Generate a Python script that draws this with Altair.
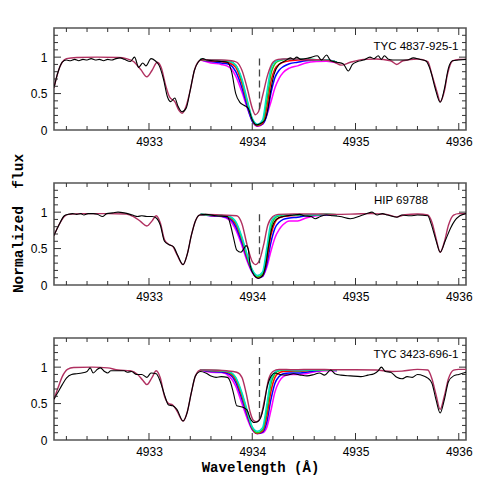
import altair as alt
import pandas as pd

X_DOMAIN = [4932.08, 4936.07]
Y_DOMAIN = [0, 1.4]
W, H = 412, 102

STARS = ["TYC 4837-925-1", "HIP 69788", "TYC 3423-696-1"]

# ---------- panel 1 : TYC 4837-925-1 ----------
P1_MOD_W = [4932.08, 4932.12, 4932.16, 4932.20, 4932.30, 4932.50, 4932.70, 4932.78, 4932.85, 4932.92,
            4932.98, 4933.03, 4933.08, 4933.12, 4933.16, 4933.20, 4933.25, 4933.29, 4933.32, 4933.36,
            4933.40, 4933.44, 4933.48, 4933.52, 4933.60, 4933.70, 4933.80, 4933.85, 4933.90, 4933.95,
            4934.00, 4934.03, 4934.06, 4934.10, 4934.15, 4934.20, 4934.25, 4934.30, 4934.40, 4934.50,
            4934.60, 4934.70, 4934.80, 4934.86, 4934.95, 4935.08, 4935.20, 4935.34, 4935.40, 4935.46,
            4935.60, 4935.70, 4935.74, 4935.79, 4935.82, 4935.86, 4935.89, 4935.94, 4936.00, 4936.07]
P1_MOD_F = [0.58, 0.80, 0.93, 0.98, 0.995, 1.0, 0.995, 0.98, 0.94, 0.83,
            0.73, 0.82, 0.93, 0.85, 0.62, 0.45, 0.39, 0.27, 0.23, 0.33,
            0.55, 0.82, 0.94, 0.97, 0.96, 0.96, 0.95, 0.93, 0.82, 0.58,
            0.30, 0.21, 0.25, 0.47, 0.76, 0.93, 0.97, 0.975, 0.975, 0.97,
            0.965, 0.96, 0.93, 0.89, 0.93, 0.97, 0.975, 0.95, 0.90, 0.95,
            0.975, 0.94, 0.76, 0.52, 0.39, 0.53, 0.76, 0.95, 0.97, 0.97]
P1_OBS_W = [4932.08, 4932.12, 4932.16, 4932.20, 4932.24, 4932.28, 4932.32, 4932.36, 4932.40, 4932.44,
            4932.48, 4932.52, 4932.56, 4932.60, 4932.64, 4932.68, 4932.72, 4932.76, 4932.82, 4932.86,
            4932.90, 4932.94, 4932.97, 4933.02, 4933.06, 4933.10, 4933.14, 4933.18, 4933.21, 4933.25,
            4933.28, 4933.32, 4933.36, 4933.40, 4933.44, 4933.48, 4933.52, 4933.56, 4933.62, 4933.70,
            4933.76, 4933.80, 4933.84, 4933.88, 4933.92, 4933.96, 4934.00, 4934.04, 4934.08, 4934.12,
            4934.15, 4934.18, 4934.21, 4934.26, 4934.32, 4934.37, 4934.40, 4934.43, 4934.47, 4934.55,
            4934.63, 4934.67, 4934.72, 4934.76, 4934.82, 4934.88, 4934.93, 4934.97, 4935.02, 4935.08,
            4935.14, 4935.18, 4935.22, 4935.25, 4935.28, 4935.32, 4935.36, 4935.42, 4935.50, 4935.56,
            4935.62, 4935.68, 4935.73, 4935.77, 4935.82, 4935.86, 4935.90, 4935.94, 4936.00, 4936.07]
P1_OBS_F = [0.58, 0.80, 0.93, 0.96, 0.95, 0.97, 0.95, 0.97, 0.96, 0.98,
            0.96, 0.97, 0.95, 0.97, 0.96, 0.98, 0.99, 0.97, 0.94, 1.00,
            0.86, 0.92, 0.88, 0.98, 0.95, 0.88, 0.70, 0.45, 0.39, 0.44,
            0.33, 0.25, 0.30, 0.55, 0.82, 0.94, 0.98, 0.96, 0.95, 0.94,
            0.93, 0.80, 0.50, 0.38, 0.34, 0.30, 0.14, 0.07, 0.09, 0.13,
            0.28, 0.55, 0.76, 0.90, 0.95, 0.99, 0.97, 1.00, 0.97, 0.99,
            1.02, 0.96, 1.03, 0.95, 0.93, 0.91, 0.81, 0.90, 0.94, 0.96,
            1.00, 0.98, 1.02, 0.97, 1.02, 0.97, 0.96, 0.96, 0.96, 0.99,
            0.97, 0.95, 0.80, 0.58, 0.38, 0.56, 0.85, 0.95, 0.96, 0.97]

# model variants around the 4934 line (common wavelength grid)
VW = [4933.50, 4933.60, 4933.70, 4933.78, 4933.84, 4933.90, 4933.95, 4934.00, 4934.05, 4934.10, 4934.14,
      4934.18, 4934.22, 4934.26, 4934.30, 4934.36, 4934.44, 4934.52, 4934.62, 4934.72, 4934.82]
P1_MAGENTA = [0.96, 0.92, 0.90, 0.86, 0.74, 0.52, 0.31, 0.13, 0.05, 0.08, 0.20, 0.38, 0.58, 0.71, 0.79, 0.85, 0.88, 0.92, 0.94, 0.945, 0.92]
P1_BLUE = [0.96, 0.94, 0.92, 0.90, 0.80, 0.58, 0.33, 0.12, 0.06, 0.08, 0.20, 0.50, 0.72, 0.82, 0.87, 0.91, 0.93, 0.95, 0.96, 0.96, 0.93]
P1_RED = [0.965, 0.95, 0.94, 0.92, 0.86, 0.64, 0.38, 0.14, 0.06, 0.09, 0.30, 0.66, 0.84, 0.90, 0.93, 0.95, 0.96, 0.965, 0.965, 0.96, 0.93]
P1_GREEN = [0.97, 0.96, 0.95, 0.94, 0.89, 0.68, 0.40, 0.15, 0.07, 0.11, 0.40, 0.76, 0.91, 0.95, 0.965, 0.97, 0.97, 0.97, 0.965, 0.96, 0.93]
P1_CYAN = [0.97, 0.96, 0.955, 0.945, 0.89, 0.70, 0.42, 0.16, 0.08, 0.14, 0.50, 0.84, 0.94, 0.96, 0.97, 0.97, 0.97, 0.97, 0.965, 0.96, 0.93]

# ---------- panel 2 : HIP 69788 ----------
P2_MOD_W = [4932.08, 4932.13, 4932.18, 4932.22, 4932.35, 4932.60, 4932.78, 4932.85, 4932.92, 4932.98,
            4933.03, 4933.07, 4933.11, 4933.15, 4933.19, 4933.23, 4933.27, 4933.33, 4933.37, 4933.41,
            4933.45, 4933.49, 4933.55, 4933.70, 4933.85, 4933.90, 4933.95, 4934.00, 4934.03, 4934.07,
            4934.11, 4934.15, 4934.20, 4934.25, 4934.40, 4934.60, 4934.80, 4935.00, 4935.15, 4935.30,
            4935.40, 4935.48, 4935.60, 4935.70, 4935.74, 4935.78, 4935.82, 4935.86, 4935.90, 4935.95,
            4936.00, 4936.07]
P2_MOD_F = [0.68, 0.83, 0.94, 0.97, 0.98, 0.98, 0.975, 0.94, 0.87, 0.81,
            0.88, 0.95, 0.85, 0.62, 0.56, 0.53, 0.42, 0.28, 0.42, 0.68,
            0.88, 0.96, 0.97, 0.96, 0.95, 0.84, 0.55, 0.32, 0.28, 0.34,
            0.55, 0.82, 0.94, 0.97, 0.975, 0.975, 0.97, 0.975, 0.98, 0.97,
            0.935, 0.965, 0.975, 0.96, 0.86, 0.64, 0.45, 0.59, 0.82, 0.96,
            0.98, 0.98]
P2_OBS_W = [4932.08, 4932.13, 4932.18, 4932.22, 4932.26, 4932.30, 4932.34, 4932.37, 4932.41, 4932.46,
            4932.50, 4932.55, 4932.59, 4932.65, 4932.70, 4932.76, 4932.84, 4932.89, 4932.93, 4932.98,
            4933.03, 4933.07, 4933.11, 4933.15, 4933.20, 4933.24, 4933.28, 4933.33, 4933.37, 4933.41,
            4933.45, 4933.49, 4933.55, 4933.65, 4933.76, 4933.79, 4933.82, 4933.85, 4933.89, 4933.92,
            4933.94, 4933.96, 4933.98, 4934.02, 4934.06, 4934.10, 4934.13, 4934.16, 4934.19, 4934.24,
            4934.30, 4934.40, 4934.46, 4934.50, 4934.57, 4934.61, 4934.66, 4934.72, 4934.78, 4934.85,
            4934.95, 4935.05, 4935.11, 4935.16, 4935.21, 4935.26, 4935.31, 4935.40, 4935.45, 4935.53,
            4935.60, 4935.70, 4935.73, 4935.78, 4935.82, 4935.87, 4935.92, 4935.96, 4936.01, 4936.07]
P2_OBS_F = [0.68, 0.83, 0.95, 0.97, 0.98, 0.97, 0.98, 0.96, 0.98, 0.98,
            0.97, 0.94, 0.98, 0.99, 1.00, 0.99, 0.96, 0.94, 0.95, 0.94,
            0.94, 0.92, 0.82, 0.60, 0.55, 0.52, 0.40, 0.28, 0.42, 0.68,
            0.88, 0.96, 0.97, 0.95, 0.94, 0.82, 0.64, 0.48, 0.45, 0.50,
            0.54, 0.50, 0.27, 0.13, 0.09, 0.13, 0.27, 0.55, 0.78, 0.91,
            0.94, 0.96, 0.97, 0.95, 0.94, 0.91, 0.94, 0.96, 0.95, 0.94,
            0.91, 0.95, 0.98, 1.00, 0.96, 0.98, 0.96, 0.93, 0.96, 0.95,
            0.96, 0.95, 0.85, 0.61, 0.45, 0.61, 0.78, 0.88, 0.95, 0.98]
P2_MAGENTA = [0.97, 0.95, 0.94, 0.89, 0.76, 0.54, 0.33, 0.17, 0.10, 0.12, 0.24, 0.46, 0.65, 0.76, 0.83, 0.88, 0.88, 0.92, 0.95, 0.96, 0.965]
P2_BLUE = [0.97, 0.95, 0.945, 0.91, 0.80, 0.58, 0.36, 0.18, 0.10, 0.12, 0.28, 0.58, 0.78, 0.86, 0.90, 0.92, 0.93, 0.95, 0.96, 0.965, 0.965]
P2_RED = [0.97, 0.955, 0.95, 0.925, 0.84, 0.62, 0.38, 0.19, 0.10, 0.13, 0.34, 0.68, 0.86, 0.92, 0.94, 0.95, 0.955, 0.96, 0.965, 0.97, 0.965]
P2_GREEN = [0.97, 0.96, 0.955, 0.935, 0.86, 0.64, 0.40, 0.20, 0.11, 0.15, 0.42, 0.78, 0.92, 0.95, 0.96, 0.96, 0.96, 0.965, 0.965, 0.97, 0.965]
P2_CYAN = [0.97, 0.96, 0.955, 0.94, 0.87, 0.66, 0.42, 0.21, 0.13, 0.18, 0.50, 0.85, 0.94, 0.96, 0.965, 0.965, 0.965, 0.965, 0.965, 0.97, 0.965]

# ---------- panel 3 : TYC 3423-696-1 ----------
P3_MOD_W = [4932.08, 4932.12, 4932.16, 4932.21, 4932.27, 4932.45, 4932.60, 4932.70, 4932.82, 4932.89,
            4932.94, 4932.98, 4933.03, 4933.07, 4933.11, 4933.15, 4933.19, 4933.23, 4933.27, 4933.33,
            4933.37, 4933.41, 4933.45, 4933.50, 4933.60, 4933.75, 4933.85, 4933.90, 4933.94, 4933.98,
            4934.01, 4934.04, 4934.08, 4934.12, 4934.16, 4934.20, 4934.26, 4934.40, 4934.60, 4934.80,
            4935.00, 4935.20, 4935.35, 4935.45, 4935.60, 4935.70, 4935.74, 4935.78, 4935.82, 4935.86,
            4935.90, 4935.95, 4936.00, 4936.07]
P3_MOD_F = [0.56, 0.72, 0.87, 0.97, 0.995, 1.0, 0.99, 0.96, 0.95, 0.90,
            0.82, 0.76, 0.86, 0.95, 0.85, 0.60, 0.50, 0.48, 0.40, 0.26,
            0.38, 0.65, 0.88, 0.96, 0.96, 0.95, 0.93, 0.86, 0.65, 0.38,
            0.27, 0.25, 0.31, 0.56, 0.84, 0.94, 0.97, 0.965, 0.97, 0.965,
            0.965, 0.96, 0.94, 0.945, 0.97, 0.96, 0.84, 0.62, 0.42, 0.60,
            0.84, 0.96, 0.97, 0.97]
P3_OBS_W = [4932.08, 4932.12, 4932.16, 4932.20, 4932.25, 4932.30, 4932.35, 4932.40, 4932.43, 4932.46,
            4932.50, 4932.53, 4932.57, 4932.60, 4932.63, 4932.70, 4932.76, 4932.79, 4932.83, 4932.88,
            4932.93, 4932.98, 4933.02, 4933.07, 4933.11, 4933.15, 4933.19, 4933.23, 4933.27, 4933.33,
            4933.37, 4933.41, 4933.45, 4933.50, 4933.55, 4933.60, 4933.65, 4933.70, 4933.76, 4933.79,
            4933.82, 4933.85, 4933.88, 4933.91, 4933.95, 4933.98, 4934.02, 4934.05, 4934.08, 4934.11,
            4934.14, 4934.18, 4934.22, 4934.27, 4934.33, 4934.40, 4934.47, 4934.53, 4934.60, 4934.65,
            4934.70, 4934.76, 4934.80, 4934.86, 4934.95, 4935.05, 4935.12, 4935.18, 4935.22, 4935.25,
            4935.29, 4935.34, 4935.40, 4935.45, 4935.50, 4935.55, 4935.60, 4935.66, 4935.70, 4935.74,
            4935.78, 4935.82, 4935.86, 4935.90, 4935.95, 4936.00, 4936.07]
P3_OBS_F = [0.56, 0.66, 0.76, 0.85, 0.90, 0.91, 0.92, 0.94, 0.99, 0.92,
            0.97, 0.99, 0.94, 0.92, 0.95, 0.95, 0.95, 0.93, 0.94, 0.90,
            0.90, 0.86, 0.92, 0.91, 0.80, 0.62, 0.48, 0.47, 0.42, 0.26,
            0.38, 0.65, 0.88, 0.94, 0.92, 0.88, 0.86, 0.87, 0.86, 0.79,
            0.63, 0.47, 0.46, 0.45, 0.41, 0.30, 0.24, 0.25, 0.30, 0.45,
            0.70, 0.87, 0.92, 0.90, 0.89, 0.91, 0.89, 0.88, 0.90, 0.92,
            0.89, 0.96, 0.91, 0.89, 0.88, 0.87, 0.89, 0.91, 0.95, 1.00,
            0.94, 0.93, 0.86, 0.84, 0.87, 0.86, 0.90, 0.88, 0.85, 0.78,
            0.55, 0.37, 0.55, 0.80, 0.88, 0.90, 0.93]
P3_MAGENTA = [0.96, 0.93, 0.925, 0.87, 0.74, 0.50, 0.30, 0.14, 0.09, 0.10, 0.17, 0.40, 0.66, 0.80, 0.87, 0.90, 0.90, 0.91, 0.94, 0.95, 0.95]
P3_BLUE = [0.96, 0.94, 0.935, 0.90, 0.79, 0.56, 0.34, 0.15, 0.09, 0.11, 0.24, 0.55, 0.78, 0.87, 0.91, 0.92, 0.92, 0.93, 0.95, 0.96, 0.955]
P3_RED = [0.965, 0.95, 0.945, 0.92, 0.83, 0.60, 0.37, 0.16, 0.09, 0.12, 0.32, 0.66, 0.86, 0.92, 0.94, 0.945, 0.945, 0.95, 0.96, 0.96, 0.96]
P3_GREEN = [0.965, 0.955, 0.95, 0.93, 0.85, 0.63, 0.39, 0.17, 0.10, 0.14, 0.40, 0.76, 0.91, 0.95, 0.96, 0.955, 0.95, 0.955, 0.96, 0.96, 0.96]
P3_CYAN = [0.965, 0.955, 0.95, 0.935, 0.86, 0.65, 0.41, 0.18, 0.12, 0.17, 0.48, 0.83, 0.93, 0.96, 0.965, 0.96, 0.955, 0.96, 0.965, 0.965, 0.96]

# dashed marker of the line centre
DASH_W = [4934.07, 4934.07, 4934.07]
DASH_TOP = [0.98, 0.97, 1.14]
DASH_BOT = [0.28, 0.30, 0.25]

# ticks
X_MAJOR = [4933, 4934, 4935, 4936]
X_MINOR = [4932.2, 4932.4, 4932.6, 4932.8, 4933.2, 4933.4, 4933.6, 4933.8, 4934.2, 4934.4,
           4934.6, 4934.8, 4935.2, 4935.4, 4935.6, 4935.8]
Y_LABELS = [0, 0.5, 1]
Y_MAJOR = [0.5, 1.0]
Y_MINOR = [0.1, 0.2, 0.3, 0.4, 0.6, 0.7, 0.8, 0.9, 1.1, 1.2, 1.3]

VARIANT_COLORS = ["#ff00ff", "#0000ff", "#ff0000", "#22c722", "#00e0c8"]
MAROON = "#b03060"

PANELS = [
    dict(mw=P1_MOD_W, mf=P1_MOD_F, ow=P1_OBS_W, of=P1_OBS_F,
         var=[P1_MAGENTA, P1_BLUE, P1_RED, P1_GREEN, P1_CYAN], lab=(362, 19)),
    dict(mw=P2_MOD_W, mf=P2_MOD_F, ow=P2_OBS_W, of=P2_OBS_F,
         var=[P2_MAGENTA, P2_BLUE, P2_RED, P2_GREEN, P2_CYAN], lab=(347, 18)),
    dict(mw=P3_MOD_W, mf=P3_MOD_F, ow=P3_OBS_W, of=P3_OBS_F,
         var=[P3_MAGENTA, P3_BLUE, P3_RED, P3_GREEN, P3_CYAN], lab=(362, 17)),
]

XS = alt.Scale(domain=X_DOMAIN, nice=False, zero=False)
YS = alt.Scale(domain=Y_DOMAIN, nice=False, zero=False)
LABEL_FONT = "Liberation Sans"
TITLE_FONT = "Liberation Mono"


def panel(i):
    p = PANELS[i]
    x_axis = alt.Axis(values=X_MAJOR, ticks=False, tickSize=0, domain=False, grid=False,
                      labelFont=LABEL_FONT, labelFontSize=12, labelPadding=6, labelColor="black",
                      format="d",
                      title="Wavelength (Å)" if i == 2 else None,
                      titleFont=TITLE_FONT, titleFontSize=14, titleFontWeight="bold",
                      titlePadding=3, titleColor="black")
    y_kwargs = dict(values=Y_LABELS, ticks=False, tickSize=0, domain=False, grid=False,
                    labelFont=LABEL_FONT, labelFontSize=12, labelPadding=7, labelColor="black",
                    format="~g")
    if i == 1:
        y_axis = alt.Axis(title="Normalized\u00a0 flux", titleFont=TITLE_FONT, titleFontSize=14.5,
                          titleFontWeight="bold", titlePadding=5, titleColor="black",
                          titleY=40, **y_kwargs)
    else:
        y_axis = alt.Axis(title=None, **y_kwargs)
    layers = []
    # model variants around the line
    for vals, col in zip(p["var"], VARIANT_COLORS):
        df = pd.DataFrame({"w": VW, "f": vals})
        layers.append(alt.Chart(df).mark_line(color=col, strokeWidth=1.5, interpolate="monotone", clip=True)
                      .encode(x=alt.X("w:Q", scale=XS, axis=x_axis), y=alt.Y("f:Q", scale=YS, axis=y_axis)))
    # reference model
    dfm = pd.DataFrame({"w": p["mw"], "f": p["mf"]})
    layers.append(alt.Chart(dfm).mark_line(color=MAROON, strokeWidth=1.4, interpolate="monotone", clip=True)
                  .encode(x=alt.X("w:Q", scale=XS, axis=x_axis), y=alt.Y("f:Q", scale=YS, axis=y_axis)))
    # observed spectrum
    dfo = pd.DataFrame({"w": p["ow"], "f": p["of"]})
    layers.append(alt.Chart(dfo).mark_line(color="black", strokeWidth=1.1, interpolate="monotone", clip=True)
                  .encode(x="w:Q", y="f:Q"))
    # dashed line
    dfd = pd.DataFrame({"w": [DASH_W[i]], "a": [DASH_TOP[i]], "b": [DASH_BOT[i]]})
    layers.append(alt.Chart(dfd).mark_rule(color="#444444", strokeWidth=1.3, strokeDash=[7, 4])
                  .encode(x="w:Q", y="a:Q", y2="b"))
    # inside ticks
    for vals, ln in ((X_MAJOR, 7), (X_MINOR, 4)):
        dft = pd.DataFrame({"t": vals})
        base = alt.Chart(dft).mark_rule(color="#333333", strokeWidth=1)
        layers.append(base.encode(x="t:Q", y=alt.value(H), y2=alt.value(H - ln)))
        layers.append(base.encode(x="t:Q", y=alt.value(0), y2=alt.value(ln)))
    for vals, ln in ((Y_MAJOR, 7), (Y_MINOR, 4)):
        dft = pd.DataFrame({"t": vals})
        base = alt.Chart(dft).mark_rule(color="#333333", strokeWidth=1)
        layers.append(base.encode(y="t:Q", x=alt.value(0), x2=alt.value(ln)))
        layers.append(base.encode(y="t:Q", x=alt.value(W), x2=alt.value(W - ln)))
    # star name
    dfl = pd.DataFrame({"name": [STARS[i]]})
    layers.append(alt.Chart(dfl).mark_text(font=LABEL_FONT, fontSize=11.5, align="center",
                                           baseline="middle", color="black")
                  .encode(x=alt.value(p["lab"][0]), y=alt.value(p["lab"][1]), text="name:N"))
    return alt.layer(*layers).properties(width=W, height=H)


chart = alt.vconcat(panel(0), panel(1), panel(2), spacing=53, bounds="flush").properties(
    padding={"left": 1, "top": 18, "right": 5, "bottom": 5}
).configure_view(stroke="#555555", strokeWidth=1.6)

chart.save("out.html", embed_options={"renderer": "svg", "actions": False})
